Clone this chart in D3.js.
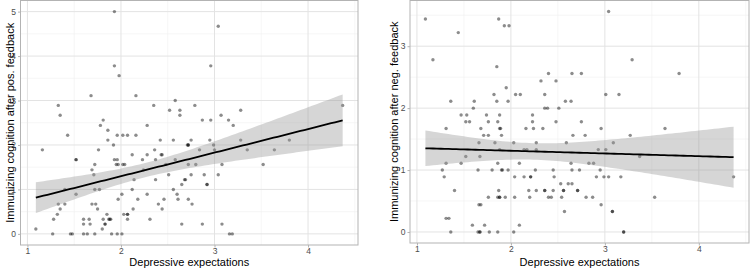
<!DOCTYPE html>
<html>
<head>
<meta charset="utf-8">
<script src="https://cdn.jsdelivr.net/npm/d3@7"></script>
<style>
  body { margin: 0; background: #fff; }
  text { font-family: "Liberation Sans", Arial, sans-serif; }
</style>
</head>
<body>
<script>
// immunizing cognition after positive feedback
const posX = [1.93,1.93,1.98,1.33,1.35,1.68,1.78,1.81,1.86,1.43,1.96,2.02,2.07,2.16,2.16,2.28,2.35,2.52,2.58,2.63,2.63,2.79,2.87,2.96,2.96,3.04,3.07,3.15,3.20,3.28,4.37,
  1.09,1.16,1.27,1.28,1.32,1.33,1.35,1.40,1.40,1.46,1.48,1.52,1.52,1.52,1.60,1.60,1.60,1.64,1.66,1.67,1.69,1.69,1.72,1.71,1.72,1.73,1.72,1.75,1.76,1.77,1.80,1.81,1.83,1.83,1.85,1.86,1.87,1.88,1.89,1.90,1.92,1.93,1.96,1.95,1.97,1.96,2.01,1.97,2.01,2.02,2.04,2.03,2.07,2.07,2.07,2.12,2.12,2.13,2.14,2.18,2.23,2.24,2.28,2.28,2.31,2.36,2.37,2.37,2.40,2.42,2.43,2.44,2.44,2.46,2.48,2.51,2.56,2.56,2.58,2.60,2.61,2.65,2.65,2.68,2.71,
  2.75,2.72,2.72,2.84,2.95,2.99,3.00,3.28,3.35,3.64,3.80,2.72,2.80,3.08,3.52,2.75,2.89,3.04,2.69,2.92,2.92,2.72,2.76,2.87,3.08,3.16,3.19];
const posY = [5.00,3.78,3.56,2.89,2.67,3.11,2.44,2.56,2.33,2.22,2.22,2.22,2.22,2.22,3.11,2.44,2.89,2.78,3.00,2.78,2.67,2.89,2.56,2.56,3.78,4.67,2.67,2.56,2.44,2.78,2.89,
  0.11,1.89,0.00,0.33,0.44,0.67,0.56,0.67,1.00,0.00,0.00,1.67,1.67,0.89,0.33,0.22,0.00,0.00,0.33,0.22,1.44,0.67,1.56,1.33,1.00,0.67,0.00,0.56,1.89,1.00,0.11,0.33,0.22,0.22,0.44,2.11,0.33,0.33,0.33,0.00,2.00,1.67,1.67,1.56,1.56,0.00,0.00,0.78,0.89,1.56,1.56,0.44,0.44,0.44,0.33,1.78,1.00,0.56,1.22,0.78,1.67,1.44,1.78,0.89,0.33,1.89,1.22,1.67,0.67,2.11,1.78,1.78,0.56,0.78,1.56,1.33,2.11,1.00,1.67,0.89,0.78,0.22,1.11,1.22,2.00,
  2.11,2.00,2.00,1.89,2.11,2.00,1.89,2.11,1.89,1.89,2.11,1.56,1.56,1.56,1.56,1.33,1.33,1.33,1.22,1.11,1.11,0.78,0.67,0.22,0.22,0.00,0.00];

// immunizing cognition after negative feedback
const negX = [1.09,1.17,1.44,1.36,1.47,1.53,1.52,1.56,1.60,1.61,1.31,1.68,1.74,1.76,1.82,1.85,1.85,1.87,1.93,1.98,1.88,1.86,1.88,1.89,1.95,1.97,2.05,2.10,2.16,2.23,2.23,2.24,2.32,2.36,2.36,2.39,2.40,2.34,2.48,2.48,2.51,
  3.04,3.29,2.65,2.75,3.79,2.58,2.64,3.01,3.15,2.75,2.96,3.64,
  1.71,1.76,1.90,1.66,1.83,2.03,2.27,1.88,2.14,2.17,2.27,1.52,1.67,1.31,1.47,1.86,2.09,1.27,1.65,1.80,1.90,1.91,1.97,2.26,2.45,1.29,2.04,2.14,2.21,2.21,2.46,1.40,1.87,2.19,2.27,2.36,2.36,2.45,1.76,1.86,1.88,1.88,1.94,2.04,2.20,2.40,2.43,1.66,1.68,1.31,1.34,1.59,1.72,2.09,1.36,1.65,1.67,1.67,1.77,1.86,2.03,
  2.66,2.79,3.27,2.59,3.09,2.93,3.01,3.37,2.64,2.83,2.88,2.65,2.73,2.95,2.91,2.99,3.04,3.17,4.37,2.53,2.61,2.65,2.56,2.56,2.71,2.71,2.54,2.80,2.87,3.53,2.96,2.57,3.08,3.08,3.20,3.20];
const negY = [3.44,2.78,3.22,2.11,1.89,1.89,1.78,1.78,2.00,2.11,1.67,1.67,1.89,1.78,2.22,2.11,2.67,3.44,3.33,3.33,1.89,1.78,1.67,1.67,2.33,2.11,2.22,2.22,1.67,1.89,1.78,1.67,2.44,2.22,2.00,2.00,2.56,1.67,2.44,1.78,2.00,
  3.56,2.78,2.56,2.56,2.56,2.11,2.11,2.22,2.22,1.78,1.67,1.67,
  1.56,1.56,1.56,1.44,1.44,1.44,1.44,1.33,1.33,1.33,1.33,1.22,1.22,1.11,1.11,1.11,1.11,1.00,1.00,1.00,1.00,1.00,1.00,1.00,1.00,0.89,0.89,0.89,0.89,0.89,0.89,0.67,0.67,0.67,0.67,0.67,0.67,0.67,0.56,0.56,0.56,0.56,0.56,0.56,0.56,0.56,0.56,0.44,0.44,0.22,0.22,0.11,0.11,0.11,0.00,0.00,0.00,0.00,0.00,0.00,0.00,
  1.56,1.56,1.56,1.44,1.44,1.33,1.33,1.22,1.11,1.11,1.11,1.00,1.00,1.00,0.89,0.89,0.89,0.89,0.89,0.78,0.78,0.78,0.67,0.67,0.67,0.67,0.56,0.56,0.56,0.56,0.44,0.33,0.33,0.33,0.00,0.00];

const xTicks = [1, 2, 3, 4];
const posYTicks = [0, 1, 2, 3, 4, 5];
const negYTicks = [0, 1, 2, 3];

const xTitle = "Depressive expectations";
const posTitle = "Immunizing cognition after pos. feedback";
const negTitle = "Immunizing cognition after neg. feedback";

let width = 750, height = 269;

let svg = d3.select("body")
            .append("svg")
            .attr("width", width)
            .attr("height", height);

// lm fit with 95% confidence band, like geom_smooth(method = "lm")
function lmBand(xs, ys) {
    let n = xs.length,
        mx = d3.mean(xs),
        my = d3.mean(ys),
        sxx = d3.sum(xs, x => (x - mx) * (x - mx)),
        sxy = d3.sum(xs, (x, i) => (x - mx) * (ys[i] - my)),
        b = sxy / sxx,
        a = my - b * mx,
        sse = d3.sum(xs, (x, i) => Math.pow(ys[i] - (a + b * x), 2)),
        s = Math.sqrt(sse / (n - 2)),
        t = 1.976;
    let [lo, hi] = d3.extent(xs);
    return d3.range(81).map(k => {
        let x = lo + (hi - lo) * k / 80,
            fit = a + b * x,
            se = s * Math.sqrt(1 / n + (x - mx) * (x - mx) / sxx);
        return {x: x, fit: fit, lower: fit - t * se, upper: fit + t * se};
    });
}

function expand(ext) {
    let pad = (ext[1] - ext[0]) * 0.05;
    return [ext[0] - pad, ext[1] + pad];
}

function drawPanel(xs, ys, yTicks, yTitle, box) {
    let pw = box.right - box.left,
        ph = box.bottom - box.top;

    let g = svg.append("g")
               .attr("transform", `translate(${box.left}, ${box.top})`);

    let xScale = d3.scaleLinear()
                   .domain(expand(d3.extent(xs)))
                   .range([0, pw]);

    let yScale = d3.scaleLinear()
                   .domain(expand(d3.extent(ys)))
                   .range([ph, 0]);

    // minor then major grid
    let xMinor = xTicks.map(v => v + 0.5).filter(v => v > xScale.domain()[0] && v < xScale.domain()[1]);
    let yMinor = yTicks.map(v => v + 0.5).filter(v => v > yScale.domain()[0] && v < yScale.domain()[1]);

    g.selectAll(".xminor").data(xMinor).enter().append("line")
        .attr("x1", d => xScale(d)).attr("x2", d => xScale(d))
        .attr("y1", 0).attr("y2", ph)
        .attr("stroke", "#f0f0f0").attr("stroke-width", 0.6);
    g.selectAll(".yminor").data(yMinor).enter().append("line")
        .attr("y1", d => yScale(d)).attr("y2", d => yScale(d))
        .attr("x1", 0).attr("x2", pw)
        .attr("stroke", "#f0f0f0").attr("stroke-width", 0.6);
    g.selectAll(".xmajor").data(xTicks).enter().append("line")
        .attr("x1", d => xScale(d)).attr("x2", d => xScale(d))
        .attr("y1", 0).attr("y2", ph)
        .attr("stroke", "#e3e3e3").attr("stroke-width", 1);
    g.selectAll(".ymajor").data(yTicks).enter().append("line")
        .attr("y1", d => yScale(d)).attr("y2", d => yScale(d))
        .attr("x1", 0).attr("x2", pw)
        .attr("stroke", "#e3e3e3").attr("stroke-width", 1);

    // points
    g.selectAll(".dot")
        .data(xs.map((x, i) => [x, ys[i]]))
        .enter()
        .append("circle")
            .attr("cx", d => xScale(d[0]))
            .attr("cy", d => yScale(d[1]))
            .attr("r", 1.7)
            .attr("fill", "#000")
            .attr("fill-opacity", 0.45);

    // smooth
    let band = lmBand(xs, ys);

    g.append("path")
        .datum(band)
        .attr("fill", "#999")
        .attr("fill-opacity", 0.4)
        .attr("d", d3.area()
            .x(d => xScale(d.x))
            .y0(d => yScale(d.lower))
            .y1(d => yScale(d.upper)));

    g.append("path")
        .datum(band)
        .attr("fill", "none")
        .attr("stroke", "#000")
        .attr("stroke-width", 1.8)
        .attr("d", d3.line()
            .x(d => xScale(d.x))
            .y(d => yScale(d.fit)));

    // border
    g.append("rect")
        .attr("width", pw)
        .attr("height", ph)
        .attr("fill", "none")
        .attr("stroke", "#b3b3b3")
        .attr("stroke-width", 1);

    // axes
    let xAxis = d3.axisBottom(xScale).tickValues(xTicks).tickSize(2.5).tickPadding(0.5).tickFormat(d3.format("d"));
    let yAxis = d3.axisLeft(yScale).tickValues(yTicks).tickSize(2.5).tickPadding(2).tickFormat(d3.format("d"));

    let gx = g.append("g")
              .attr("transform", "translate(0," + ph + ")")
              .call(xAxis);
    let gy = g.append("g").call(yAxis);

    [gx, gy].forEach(a => {
        a.select(".domain").remove();
        a.selectAll(".tick line").attr("stroke", "#b3b3b3");
        a.selectAll(".tick text")
            .attr("fill", "#4d4d4d")
            .style("font-size", "8.5px")
            .style("font-family", "Liberation Sans, Arial, sans-serif");
    });

    g.append("text")
        .attr("x", pw / 2)
        .attr("y", 266 - box.top)
        .attr("text-anchor", "middle")
        .style("font-size", "11px")
        .text(xTitle);

    g.append("text")
        .attr("transform", `translate(${box.titleX - box.left}, ${ph / 2}) rotate(-90)`)
        .attr("text-anchor", "middle")
        .attr("dy", "0.35em")
        .style("font-size", "11px")
        .text(yTitle);
}

drawPanel(posX, posY, posYTicks, posTitle, {left: 20.5, right: 358, top: 0.5, bottom: 245, titleX: 10});
drawPanel(negX, negY, negYTicks, negTitle, {left: 410, right: 749, top: 0.5, bottom: 243, titleX: 394});
</script>
</body>
</html>
